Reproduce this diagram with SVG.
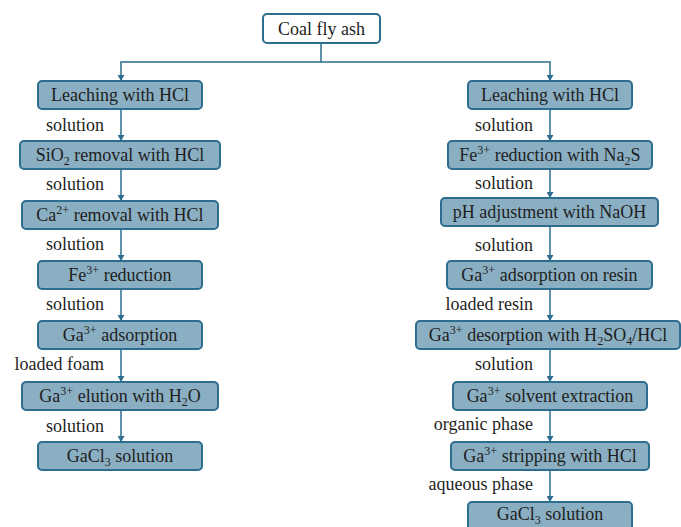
<svg xmlns="http://www.w3.org/2000/svg" width="681" height="527" viewBox="0 0 681 527" font-family="'Liberation Serif', 'Times New Roman', serif">
<style>
text{font-family:'Liberation Serif','Times New Roman',Times,serif;font-size:18px;fill:#1e1e1e}
.b{fill:#8bafc2;stroke:#2d6d90;stroke-width:2}
.w{fill:#ffffff;stroke:#2d6d90;stroke-width:2}
.c{text-anchor:middle}
.l{text-anchor:end}
.ln{fill:none;stroke:#2d6d90;stroke-width:1.5}
.sup{font-size:12px;baseline-shift:7px}
.sub{font-size:12px;baseline-shift:-4px}
</style>
<defs>
<marker id="ah" viewBox="0 0 6 7" refX="6" refY="3.5" markerWidth="6" markerHeight="7" markerUnits="userSpaceOnUse" orient="auto">
<path d="M0,0 L6,3.5 L0,7 Z" fill="#2d6d90"/>
</marker>
</defs>
<g id="connectors">
<path class="ln" d="M321,43 V62 H121 V81" marker-end="url(#ah)"/>
<path class="ln" d="M321,62 H550 V81" marker-end="url(#ah)"/>
<path class="ln" d="M121,109 V141" marker-end="url(#ah)"/>
<path class="ln" d="M121,169 V201" marker-end="url(#ah)"/>
<path class="ln" d="M121,229 V261" marker-end="url(#ah)"/>
<path class="ln" d="M121,289 V321" marker-end="url(#ah)"/>
<path class="ln" d="M121,349 V382" marker-end="url(#ah)"/>
<path class="ln" d="M121,410 V442" marker-end="url(#ah)"/>
<path class="ln" d="M550,109 V141" marker-end="url(#ah)"/>
<path class="ln" d="M550,169 V198" marker-end="url(#ah)"/>
<path class="ln" d="M550,226 V261" marker-end="url(#ah)"/>
<path class="ln" d="M550,289 V321" marker-end="url(#ah)"/>
<path class="ln" d="M550,349 V382" marker-end="url(#ah)"/>
<path class="ln" d="M550,410 V442" marker-end="url(#ah)"/>
<path class="ln" d="M550,470 V502" marker-end="url(#ah)"/>
<text class="l" x="104" y="131">solution</text>
<text class="l" x="104" y="190">solution</text>
<text class="l" x="104" y="250">solution</text>
<text class="l" x="104" y="310">solution</text>
<text class="l" x="104" y="370">loaded foam</text>
<text class="l" x="104" y="432">solution</text>
<text class="l" x="533" y="131">solution</text>
<text class="l" x="533" y="189">solution</text>
<text class="l" x="533" y="251">solution</text>
<text class="l" x="533" y="310">loaded resin</text>
<text class="l" x="533" y="370">solution</text>
<text class="l" x="533" y="430">organic phase</text>
<text class="l" x="533" y="490">aqueous phase</text>
</g>
<g id="coal"><rect class="w" x="263" y="14" width="117" height="29" rx="4"/><text class="c" x="321.5" y="35">Coal fly ash</text></g>
<g id="L1"><rect class="b" x="38" y="81" width="164" height="28" rx="4"/><text class="c" x="120" y="101">Leaching with HCl</text></g>
<g id="L2"><rect class="b" x="20" y="141" width="200" height="28" rx="4"/><text class="c" x="120" y="161">SiO<tspan class="sub">2</tspan> removal with HCl</text></g>
<g id="L3"><rect class="b" x="22" y="201" width="196" height="28" rx="4"/><text class="c" x="120" y="221">Ca<tspan class="sup">2+</tspan> removal with HCl</text></g>
<g id="L4"><rect class="b" x="38" y="261" width="164" height="28" rx="4"/><text class="c" x="120" y="281">Fe<tspan class="sup">3+</tspan> reduction</text></g>
<g id="L5"><rect class="b" x="38" y="321" width="164" height="28" rx="4"/><text class="c" x="120" y="341">Ga<tspan class="sup">3+</tspan> adsorption</text></g>
<g id="L6"><rect class="b" x="22" y="382" width="196" height="28" rx="4"/><text class="c" x="120" y="402">Ga<tspan class="sup">3+</tspan> elution with H<tspan class="sub">2</tspan>O</text></g>
<g id="L7"><rect class="b" x="38" y="442" width="164" height="28" rx="4"/><text class="c" x="120" y="462">GaCl<tspan class="sub">3</tspan> solution</text></g>
<g id="R1"><rect class="b" x="468" y="81" width="164" height="28" rx="4"/><text class="c" x="550" y="101">Leaching with HCl</text></g>
<g id="R2"><rect class="b" x="448" y="141" width="204" height="28" rx="4"/><text class="c" x="550" y="161">Fe<tspan class="sup">3+</tspan> reduction with Na<tspan class="sub">2</tspan>S</text></g>
<g id="R3"><rect class="b" x="441" y="198" width="217" height="28" rx="4"/><text class="c" x="549.5" y="218">pH adjustment with NaOH</text></g>
<g id="R4"><rect class="b" x="447" y="261" width="205" height="28" rx="4"/><text class="c" x="549.5" y="281">Ga<tspan class="sup">3+</tspan> adsorption on resin</text></g>
<g id="R5"><rect class="b" x="416" y="321" width="264" height="28" rx="4"/><text class="c" x="548" y="341">Ga<tspan class="sup">3+</tspan> desorption with H<tspan class="sub">2</tspan>SO<tspan class="sub">4</tspan>/HCl</text></g>
<g id="R6"><rect class="b" x="453" y="382" width="194" height="28" rx="4"/><text class="c" x="550" y="402">Ga<tspan class="sup">3+</tspan> solvent extraction</text></g>
<g id="R7"><rect class="b" x="451" y="442" width="198" height="28" rx="4"/><text class="c" x="550" y="462">Ga<tspan class="sup">3+</tspan> stripping with HCl</text></g>
<g id="R8"><rect class="b" x="468" y="502" width="164" height="30" rx="4"/><text class="c" x="550" y="520">GaCl<tspan class="sub">3</tspan> solution</text></g>
</svg>
